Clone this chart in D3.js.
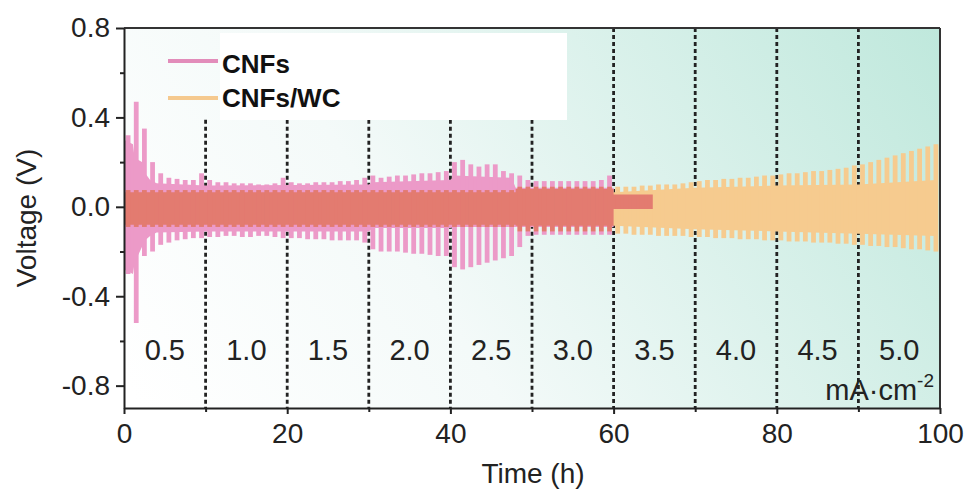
<!DOCTYPE html>
<html>
<head>
<meta charset="utf-8">
<script src="https://cdn.jsdelivr.net/npm/d3@7"></script>
<style>
  html, body { margin: 0; padding: 0; background: #ffffff; }
  svg { display: block; font-family: Arial, "Liberation Sans", Helvetica, sans-serif; }
</style>
</head>
<body>
<svg id="chart" width="967" height="489"></svg>
<script>
// ---------------- data ----------------
const xTicks = [0, 20, 40, 60, 80, 100];
const xMinorTicks = [10, 30, 50, 70, 90];
const yTicks = [-0.8, -0.4, 0.0, 0.4, 0.8];
const yMinorTicks = [-0.6, -0.2, 0.2, 0.6];
const stepBoundaries = [10, 20, 30, 40, 50, 60, 70, 80, 90];
const currentLabels = ["0.5", "1.0", "1.5", "2.0", "2.5", "3.0", "3.5", "4.0", "4.5", "5.0"];
const currentLabelTimes = [5, 15, 25, 35, 45, 55, 65, 75, 85, 95];
const seriesNames = ["CNFs", "CNFs/WC"];

// CNFs: per-cycle (1 h) peak voltages, cycle i centred at i + 0.5 h
const cnfUpper = [
  0.32, 0.47, 0.35, 0.20, 0.15, 0.13, 0.125, 0.12, 0.12, 0.15,
  0.12, 0.11, 0.11, 0.105, 0.105, 0.105, 0.10, 0.10, 0.105, 0.13,
  0.11, 0.105, 0.105, 0.11, 0.11, 0.11, 0.115, 0.115, 0.12, 0.13,
  0.14, 0.13, 0.135, 0.14, 0.14, 0.145, 0.15, 0.15, 0.155, 0.16,
  0.20, 0.21, 0.19, 0.18, 0.19, 0.19, 0.16, 0.15, 0.14, 0.12,
  0.115, 0.115, 0.115, 0.115, 0.115, 0.115, 0.115, 0.115, 0.12, 0.14
];
const cnfLower = [
  -0.30, -0.52, -0.22, -0.20, -0.17, -0.16, -0.15, -0.145, -0.14, -0.14,
  -0.135, -0.135, -0.13, -0.13, -0.135, -0.135, -0.13, -0.13, -0.135, -0.14,
  -0.14, -0.14, -0.145, -0.145, -0.145, -0.15, -0.15, -0.15, -0.15, -0.16,
  -0.19, -0.20, -0.20, -0.20, -0.205, -0.21, -0.21, -0.215, -0.22, -0.22,
  -0.27, -0.28, -0.27, -0.26, -0.25, -0.24, -0.23, -0.22, -0.18, -0.13,
  -0.125, -0.125, -0.125, -0.125, -0.125, -0.125, -0.125, -0.125, -0.125, -0.125
];
// CNFs plateau band (solid part between the spikes)
const cnfCoreTime = [0, 1.1, 1.3, 2.2, 2.6, 3.2, 4, 10, 30, 30.5, 40, 40.5, 47.5, 48, 60, 60, 64.8];
const cnfCoreUp   = [0.30, 0.28, 0.22, 0.20, 0.15, 0.12, 0.105, 0.095, 0.10, 0.11, 0.12, 0.14, 0.13, 0.085, 0.085, 0.055, 0.055];
const cnfCoreLow  = [-0.28, -0.30, -0.25, -0.18, -0.15, -0.13, -0.115, -0.11, -0.11, -0.095, -0.095, -0.09, -0.09, -0.09, -0.09, -0.01, -0.01];

// CNFs/WC: per-cycle peak voltages
const wcUpper = [
  0.075, 0.075, 0.075, 0.075, 0.075, 0.075, 0.075, 0.075, 0.075, 0.075,
  0.075, 0.075, 0.075, 0.075, 0.075, 0.075, 0.075, 0.075, 0.075, 0.075,
  0.075, 0.075, 0.075, 0.075, 0.075, 0.075, 0.075, 0.075, 0.075, 0.075,
  0.075, 0.075, 0.075, 0.075, 0.075, 0.075, 0.075, 0.075, 0.075, 0.075,
  0.075, 0.075, 0.075, 0.075, 0.075, 0.075, 0.075, 0.075, 0.09, 0.09,
  0.09, 0.09, 0.09, 0.09, 0.09, 0.09, 0.09, 0.09, 0.09, 0.09,
  0.09, 0.09, 0.09, 0.095, 0.095, 0.10, 0.10, 0.10, 0.105, 0.11,
  0.115, 0.12, 0.12, 0.125, 0.125, 0.13, 0.13, 0.135, 0.14, 0.14,
  0.145, 0.15, 0.15, 0.155, 0.16, 0.16, 0.165, 0.17, 0.175, 0.185,
  0.19, 0.20, 0.21, 0.22, 0.23, 0.24, 0.25, 0.26, 0.27, 0.28
];
const wcLower = [
  -0.09, -0.09, -0.09, -0.09, -0.09, -0.09, -0.09, -0.09, -0.09, -0.09,
  -0.09, -0.09, -0.09, -0.09, -0.09, -0.09, -0.09, -0.09, -0.09, -0.09,
  -0.09, -0.09, -0.09, -0.09, -0.09, -0.09, -0.09, -0.09, -0.09, -0.09,
  -0.09, -0.09, -0.09, -0.09, -0.09, -0.09, -0.09, -0.09, -0.09, -0.09,
  -0.09, -0.09, -0.09, -0.09, -0.09, -0.09, -0.09, -0.09, -0.11, -0.11,
  -0.11, -0.11, -0.11, -0.11, -0.11, -0.11, -0.11, -0.11, -0.11, -0.11,
  -0.12, -0.12, -0.125, -0.125, -0.125, -0.13, -0.13, -0.13, -0.13, -0.135,
  -0.135, -0.135, -0.14, -0.14, -0.14, -0.145, -0.145, -0.145, -0.15, -0.15,
  -0.15, -0.155, -0.155, -0.155, -0.16, -0.16, -0.16, -0.165, -0.165, -0.17,
  -0.17, -0.175, -0.175, -0.18, -0.18, -0.185, -0.19, -0.19, -0.195, -0.20
];
const wcCoreTime = [0, 48, 48, 60, 60, 70, 80, 90, 99.5];
const wcCoreUp   = [0.065, 0.065, 0.08, 0.08, 0.065, 0.085, 0.095, 0.10, 0.12];
const wcCoreLow  = [-0.08, -0.08, -0.085, -0.085, -0.085, -0.10, -0.11, -0.12, -0.13];

// ---------------- drawing ----------------
const svg = d3.select("#chart");
const x = d3.scaleLinear().domain([0, 100]).range([124, 940]);
const y = d3.scaleLinear().domain([-0.9, 0.8]).range([408, 28]);

const colPink = "#ec9ac8";
const colOrange = "#f6cb8f";
const legPink = "#e28cba";
const legOrange = "#f5c98e";
const axisCol = "#222";

// background gradient
const defs = svg.append("defs");
const grad = defs.append("linearGradient").attr("id", "bg")
  .attr("gradientUnits", "userSpaceOnUse")
  .attr("x1", 200).attr("y1", 500).attr("x2", 940).attr("y2", 28);
grad.append("stop").attr("offset", 0).attr("stop-color", "#ffffff");
grad.append("stop").attr("offset", 0.35).attr("stop-color", "#f4faf9");
grad.append("stop").attr("offset", 1).attr("stop-color", "#bfe8dc");

svg.append("rect")
  .attr("x", x(0)).attr("y", y(0.8))
  .attr("width", x(100) - x(0)).attr("height", y(-0.9) - y(0.8))
  .attr("fill", "url(#bg)");

// dashed step boundaries
svg.append("g").selectAll("line").data(stepBoundaries).join("line")
  .attr("x1", d => x(d)).attr("x2", d => x(d))
  .attr("y1", d => d <= 50 ? y(0.39) : y(0.8))
  .attr("y2", y(-0.9))
  .attr("stroke", axisCol).attr("stroke-width", 2.8)
  .attr("stroke-dasharray", "4,3");

// data
const dataG = svg.append("g").style("isolation", "isolate");
function drawSeries(g, coreT, coreU, coreL, up, low, color) {
  const core = coreT.map((t, i) => ({ t, u: coreU[i], l: coreL[i] }));
  g.append("path").datum(core)
    .attr("d", d3.area().x(d => x(d.t)).y0(d => y(d.l)).y1(d => y(d.u)))
    .attr("fill", color);
  const cyc = up.map((u, i) => ({ t: i + 0.5, u, l: low[i] }));
  g.selectAll("line.tooth").data(cyc).join("line")
    .attr("class", "tooth")
    .attr("x1", d => x(d.t)).attr("x2", d => x(d.t))
    .attr("y1", d => y(d.u)).attr("y2", d => y(d.l))
    .attr("stroke", color).attr("stroke-width", 4.8);
}
const wcG = dataG.append("g");
drawSeries(wcG, wcCoreTime, wcCoreUp, wcCoreLow, wcUpper, wcLower, colOrange);
const cnfG = dataG.append("g").style("mix-blend-mode", "multiply");
drawSeries(cnfG, cnfCoreTime, cnfCoreUp, cnfCoreLow, cnfUpper, cnfLower, colPink);

// frame (top + right)
svg.append("line").attr("x1", x(0)).attr("x2", x(100)).attr("y1", y(0.8)).attr("y2", y(0.8))
  .attr("stroke", "#333").attr("stroke-width", 2);
svg.append("line").attr("x1", x(100)).attr("x2", x(100)).attr("y1", y(0.8)).attr("y2", y(-0.9))
  .attr("stroke", "#333").attr("stroke-width", 2);

// axes
const fmtY = d => d3.format(".1f")(d).replace("−", "-");
const yAxis = svg.append("g").attr("transform", `translate(${x(0)},0)`)
  .call(d3.axisLeft(y).tickValues(yTicks).tickSize(8).tickSizeOuter(0).tickPadding(6).tickFormat(fmtY));
const yMinor = svg.append("g").attr("transform", `translate(${x(0)},0)`)
  .call(d3.axisLeft(y).tickValues(yMinorTicks).tickSize(4).tickFormat(""));
const xAxis = svg.append("g").attr("transform", `translate(0,${y(-0.9)})`)
  .call(d3.axisBottom(x).tickValues(xTicks).tickSize(6).tickSizeOuter(0).tickPadding(9).tickFormat(d3.format("d")));
const xMinor = svg.append("g").attr("transform", `translate(0,${y(-0.9)})`)
  .call(d3.axisBottom(x).tickValues(xMinorTicks).tickSize(4).tickFormat(""));
[yAxis, yMinor, xAxis, xMinor].forEach(a => {
  a.select(".domain").attr("stroke", axisCol).attr("stroke-width", 2);
  a.selectAll(".tick line").attr("stroke", axisCol).attr("stroke-width", 2);
  a.selectAll(".tick text").attr("fill", "#222").style("font-size", "28px")
    .style("font-family", "Arial, 'Liberation Sans', sans-serif");
});
yMinor.select(".domain").remove();
xMinor.select(".domain").remove();

// current density labels
svg.append("g").selectAll("text").data(currentLabels).join("text")
  .attr("x", (d, i) => x(currentLabelTimes[i]))
  .attr("y", 360)
  .attr("text-anchor", "middle")
  .attr("fill", "#222")
  .style("font-size", "29px")
  .text(d => d);

const unit = svg.append("text")
  .attr("x", 934).attr("y", 400)
  .attr("text-anchor", "end")
  .attr("fill", "#222")
  .style("font-size", "29px");
unit.append("tspan").text("mA·cm");
unit.append("tspan").attr("dy", -13).style("font-size", "19px").text("-2");

// axis titles
svg.append("text")
  .attr("transform", `translate(36,218) rotate(-90)`)
  .attr("text-anchor", "middle")
  .attr("fill", "#222")
  .style("font-size", "28px")
  .text("Voltage (V)");
svg.append("text")
  .attr("x", 533).attr("y", 483)
  .attr("text-anchor", "middle")
  .attr("fill", "#222")
  .style("font-size", "28px")
  .text("Time (h)");

// legend
svg.append("rect").attr("x", 220).attr("y", 33).attr("width", 347).attr("height", 87).attr("fill", "#ffffff");
const legY = [61, 98];
const legCol = [legPink, legOrange];
const legText = [73, 107];
seriesNames.forEach((name, i) => {
  svg.append("line").attr("x1", 168).attr("x2", 218).attr("y1", legY[i]).attr("y2", legY[i])
    .attr("stroke", legCol[i]).attr("stroke-width", 4);
  svg.append("text").attr("x", 222).attr("y", legText[i])
    .attr("fill", "#111").style("font-size", "26px").style("font-weight", "bold")
    .text(name);
});
</script>
</body>
</html>
